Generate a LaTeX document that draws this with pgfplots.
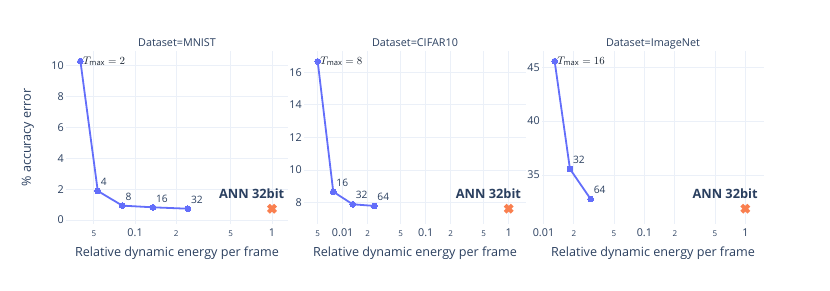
\documentclass[border=0pt]{standalone}
\usepackage{fontspec}
\setmainfont{Open Sans}
\usepackage{pgfplots}
\pgfplotsset{compat=1.18}
\definecolor{txt}{HTML}{2A3F5F}
\definecolor{gridc}{HTML}{EBF0F8}
\definecolor{lin}{HTML}{636EFA}
\definecolor{ann}{HTML}{F97F4F}
\newcommand{\tk}{\fontsize{10.8bp}{12bp}\selectfont}
\newcommand{\mn}[1]{{\fontsize{8bp}{9bp}\selectfont #1}}
\tikzset{
  plab/.style={anchor=south west, inner sep=0pt, xshift=3bp, yshift=5bp, font=\fontsize{10.2bp}{12bp}\selectfont, text=txt},
  tlab/.style={anchor=west, inner sep=0pt, xshift=2.5bp, font=\fontsize{10.8bp}{12bp}\selectfont, text=txt!50!black},
  alab/.style={anchor=south east, inner sep=0pt, xshift=12.5bp, yshift=10bp, font=\fontsize{12.8bp}{14bp}\selectfont\bfseries, text=txt},
}
\pgfplotsset{
  panel/.style={
    scale only axis, width=222bp, height=173bp,
    axis line style={draw=none}, major tick length=0pt, minor tick length=0pt,
    tick style={draw=none}, minor xtick={},
    grid=major, grid style={draw=gridc, line width=0.9bp},
    ticklabel style={font=\tk, text=txt},
    yticklabel style={anchor=east, inner sep=0pt, xshift=-2bp},
    xticklabel style={anchor=base, inner sep=0pt, yshift=-12bp},
    /pgf/number format/assume math mode=true,
    clip=false,
    title style={at={(axis description cs:0.5,1)}, anchor=base, yshift=-1.5bp, inner sep=0pt,
      font=\fontsize{10.8bp}{12bp}\selectfont, text=txt},
    xlabel={Relative dynamic energy per frame},
    xlabel style={at={(axis description cs:0.5,-0.169)}, anchor=center, inner sep=0pt,
      font=\fontsize{12.6bp}{14bp}\selectfont, text=txt},
    ylabel style={font=\fontsize{12.6bp}{14bp}\selectfont, text=txt},
  },
  snn/.style={color=lin, line width=1.8bp, mark=*, mark size=2.9bp, mark options={fill=lin, draw=lin, line width=0pt}},
  annm/.style={only marks, mark=x, mark size=5bp, color=ann, mark options={line width=4bp, line cap=butt}},
}
\begin{document}
\begin{tikzpicture}
\useasboundingbox (0,0) rectangle (830bp,291bp);
% Panel 1: MNIST
\begin{semilogxaxis}[panel, at={(66bp,67bp)}, anchor=south west,
  xmin=0.0313, xmax=1.309, ymin=-0.26, ymax=10.94,
  xtick={0.05,0.1,0.2,0.5,1},
  xticklabels={\mn{5},0.1,\mn{2},\mn{5},1},
  ytick={0,2,4,6,8,10},
  title={Dataset=MNIST},
  ylabel={\% accuracy error},
  ylabel style={at={(axis description cs:-0.172,0.5)}, anchor=center, inner sep=0pt},
]
\addplot[snn] coordinates {(0.0399,10.28) (0.0534,1.88) (0.0807,0.93) (0.135,0.82) (0.243,0.73)};
\addplot[annm] coordinates {(1,0.73)};
\node[tlab] at (axis cs:0.0399,10.28) {$T_{\max}=2$};
\node[plab] at (axis cs:0.0534,1.88) {4};
\node[plab] at (axis cs:0.0807,0.93) {8};
\node[plab] at (axis cs:0.135,0.82) {16};
\node[plab] at (axis cs:0.243,0.73) {32};
\node[alab] at (axis cs:1,0.73) {ANN 32bit};
\end{semilogxaxis}
% Panel 2: CIFAR10
\begin{semilogxaxis}[panel, at={(304bp,67bp)}, anchor=south west,
  xmin=0.00342, xmax=1.615, ymin=6.69, ymax=17.31,
  xtick={0.005,0.01,0.02,0.05,0.1,0.2,0.5,1},
  xticklabels={\mn{5},0.01,\mn{2},\mn{5},0.1,\mn{2},\mn{5},1},
  ytick={8,10,12,14,16},
  title={Dataset=CIFAR10},
]
\addplot[snn] coordinates {(0.0050,16.67) (0.0077,8.67) (0.0132,7.90) (0.0240,7.80)};
\addplot[annm] coordinates {(1,7.63)};
\node[tlab] at (axis cs:0.0050,16.67) {$T_{\max}=8$};
\node[plab] at (axis cs:0.0077,8.67) {16};
\node[plab] at (axis cs:0.0132,7.90) {32};
\node[plab] at (axis cs:0.0240,7.80) {64};
\node[alab] at (axis cs:1,7.63) {ANN 32bit};
\end{semilogxaxis}
% Panel 3: ImageNet
\begin{semilogxaxis}[panel, at={(542bp,67bp)}, anchor=south west,
  xmin=0.00967, xmax=1.53, ymin=30.45, ymax=46.51,
  xtick={0.01,0.02,0.05,0.1,0.2,0.5,1},
  xticklabels={0.01,\mn{2},\mn{5},0.1,\mn{2},\mn{5},1},
  ytick={35,40,45},
  title={Dataset=ImageNet},
]
\addplot[snn] coordinates {(0.0129,45.56) (0.0183,35.56) (0.0293,32.77)};
\addplot[annm] coordinates {(1,31.87)};
\node[tlab] at (axis cs:0.0129,45.56) {$T_{\max}=16$};
\node[plab] at (axis cs:0.0183,35.56) {32};
\node[plab] at (axis cs:0.0293,32.77) {64};
\node[alab] at (axis cs:1,31.87) {ANN 32bit};
\end{semilogxaxis}
\end{tikzpicture}
\end{document}
